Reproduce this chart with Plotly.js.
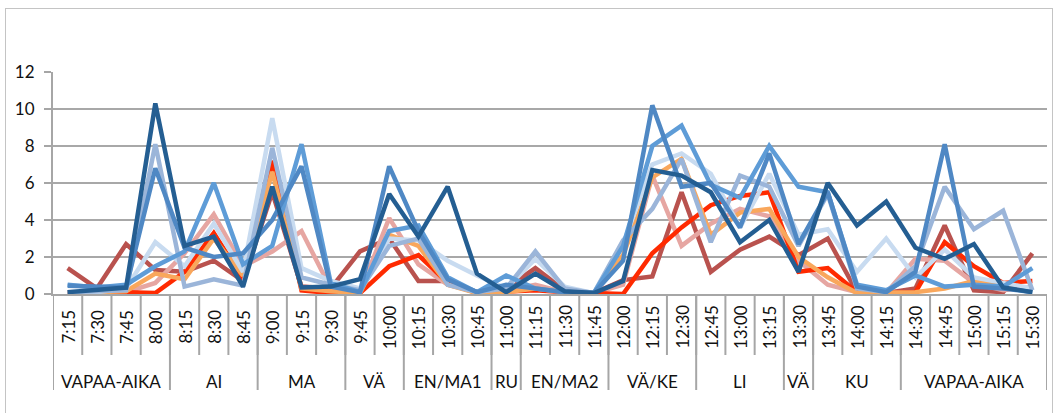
<!DOCTYPE html>
<html><head><meta charset="utf-8">
<script src="https://cdn.plot.ly/plotly-3.0.1.min.js"></script>
<style>
html,body{margin:0;padding:0;background:#fff;overflow:hidden}
#chart{width:1060px;height:413px}
#frame{position:absolute;left:5px;top:8px;width:1046px;height:420px;border:1px solid #c4c4c4;pointer-events:none}
</style></head><body>
<div id="chart"></div><div id="frame"></div>
<script>
// categories
const times = ['7:15','7:30','7:45','8:00','8:15','8:30','8:45','9:00','9:15','9:30','9:45','10:00','10:15','10:30','10:45','11:00','11:15','11:30','11:45','12:00','12:15','12:30','12:45','13:00','13:15','13:30','13:45','14:00','14:15','14:30','14:45','15:00','15:15','15:30'];
const groups = ['VAPAA-AIKA','AI','MA','VÄ','EN/MA1','RU','EN/MA2','VÄ/KE','LI','VÄ','KU','VAPAA-AIKA'];
const groupSizes = [4,3,3,2,3,1,3,3,3,1,3,5];
const yTicks = [0,2,4,6,8,10,12];

// series values
const seriesA = [1.4,0.3,2.7,1.3,1.2,1.8,0.7,5.5,0.4,0.3,2.3,3.0,0.7,0.7,0.1,0.3,1.4,0.2,0.05,0.75,0.95,5.5,1.2,2.4,3.1,2.1,3.0,0.1,0.05,0.3,3.7,0.2,0.1,2.2];
const seriesC = [0.05,0.1,0.1,0.6,2.2,4.3,1.5,2.3,3.4,0.3,0.1,4.1,1.6,0.5,0.1,0.2,0.5,0.1,0.05,0.5,6.4,2.6,3.8,4.6,4.2,1.8,0.5,0.1,0.05,1.9,1.8,0.6,0.2,0.4];
const seriesB = [0.1,0.05,0.1,0.05,1.2,3.3,0.8,7.2,0.2,0.05,0.05,1.5,2.1,0.6,0.05,0.1,0.2,0.1,0.05,0.0,2.2,3.6,4.8,5.3,5.5,1.2,1.4,0.1,0.05,0.1,2.8,1.5,0.6,0.7];
const seriesD = [0.05,0.1,0.15,1.1,0.8,3.0,1.0,6.6,0.3,0.15,0.05,3.2,2.6,0.5,0.05,0.1,0.3,0.1,0.05,2.1,6.3,7.3,3.2,4.4,4.6,2.0,0.9,0.05,0.05,0.1,0.3,0.7,0.4,0.3];
const seriesE = [0.05,0.1,0.3,2.8,1.5,3.8,1.2,9.5,1.4,0.7,0.3,3.0,2.9,1.8,1.0,0.3,1.9,0.4,0.05,2.7,7.0,7.6,6.5,3.6,6.5,3.2,3.5,1.2,3.0,0.9,2.4,0.9,0.6,0.3];
const seriesF = [0.1,0.15,0.2,8.1,0.4,0.8,0.45,7.9,0.9,0.5,0.2,2.6,3.0,0.5,0.1,0.3,2.3,0.3,0.05,2.9,4.6,7.3,2.8,6.4,5.8,2.6,5.4,0.3,0.1,1.5,5.8,3.5,4.5,0.2];
const seriesG = [0.5,0.35,0.5,1.5,2.3,6.0,1.6,2.6,8.1,0.6,0.1,3.4,3.7,0.9,0.1,1.0,0.3,0.1,0.05,2.6,8.0,9.1,5.9,5.2,8.0,5.8,5.5,0.5,0.2,1.0,0.4,0.5,0.4,1.4];
const seriesH = [0.45,0.4,0.35,6.8,2.5,2.0,2.2,4.0,6.9,0.4,0.1,6.9,3.4,0.8,0.1,0.5,0.3,0.1,0.05,1.8,10.2,5.8,6.0,3.6,7.6,2.7,5.5,0.4,0.1,1.2,8.1,0.4,0.3,0.1];
const seriesI = [0.1,0.2,0.35,10.3,2.6,3.1,0.4,5.8,0.35,0.4,0.8,5.4,3.1,5.8,1.1,0.1,1.1,0.15,0.05,0.7,6.7,6.4,5.5,2.8,4.0,1.2,6.0,3.7,5.0,2.5,1.9,2.7,0.35,0.1];

const seriesList = [seriesA, seriesC, seriesB, seriesD, seriesE, seriesF, seriesG, seriesH, seriesI];
const colors = ['#b9524e','#e6a6a2','#ff2a00','#f9a75c','#c8dbf0','#9bb5d9','#5e9cd7','#4f88c4','#245e92'];

const W = 1060, H = 413;
const plotL = 53, plotR = 1047, plotT = 72, plotB = 294;
const py = p => (plotB - p) / (plotB - plotT);   // pixel y -> paper y
const xIdx = times.map((t,i)=>i);

const traces = seriesList.map((s,k)=>({
  type:'scatter', mode:'lines', x:xIdx, y:s,
  line:{color:colors[k], width:4.5, shape:'linear'},
  cliponaxis:false, hoverinfo:'skip', showlegend:false
}));

const shapes = [];
const annotations = [];
const font = 'Lato, "Open Sans", "DejaVu Sans", sans-serif';
// time dividers
for(let i=0;i<=times.length;i++){
  shapes.push({type:'line', xref:'x', yref:'paper', x0:i-0.5, x1:i-0.5, y0:0, y1:py(355), line:{color:'#a6a6a6', width:2}});
}
// group dividers & labels
let start = 0;
shapes.push({type:'line', xref:'x', yref:'paper', x0:-0.5, x1:-0.5, y0:0, y1:py(390), line:{color:'#a6a6a6', width:2}});
groups.forEach((g,k)=>{
  const end = start + groupSizes[k];
  shapes.push({type:'line', xref:'x', yref:'paper', x0:end-0.5, x1:end-0.5, y0:0, y1:py(390), line:{color:'#a6a6a6', width:2}});
  annotations.push({xref:'x', yref:'paper', x:(start+end-1)/2, y:py(381), text:g, showarrow:false,
    xanchor:'center', yanchor:'middle', font:{family:font, size:17, color:'#111'}});
  start = end;
});
// time labels
times.forEach((t,i)=>{
  annotations.push({xref:'x', yref:'paper', x:i, y:py(327), text:t, textangle:-90, showarrow:false,
    xanchor:'center', yanchor:'middle', font:{family:font, size:17, color:'#111'}});
});

const layout = {
  width:W, height:H,
  margin:{l:plotL, r:W-plotR, t:plotT, b:H-plotB, pad:0},
  paper_bgcolor:'#ffffff', plot_bgcolor:'#ffffff',
  showlegend:false,
  xaxis:{type:'linear', range:[-0.5, times.length-0.5], showgrid:false, zeroline:false,
    showticklabels:false, ticks:'', showline:true, linecolor:'#a6a6a6', linewidth:2, fixedrange:true},
  yaxis:{range:[0,12], tickvals:yTicks, ticktext:yTicks.map(String), showgrid:true, gridcolor:'#a8a8a8', gridwidth:2,
    zeroline:false, showline:true, linecolor:'#a6a6a6', linewidth:2, ticks:'outside', ticklen:7, tickwidth:2,
    tickcolor:'#a6a6a6', ticklabelstandoff:6, tickfont:{family:font, size:17, color:'#111'}, fixedrange:true},
  shapes:shapes, annotations:annotations
};
Plotly.newPlot('chart', traces, layout, {staticPlot:true, displayModeBar:false});
</script>
</body></html>
